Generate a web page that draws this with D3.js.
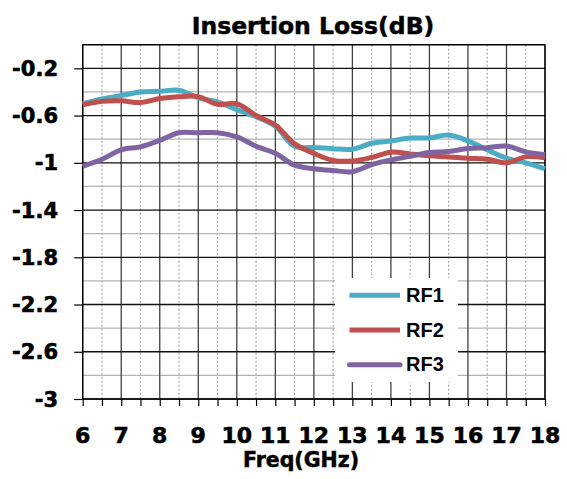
<!DOCTYPE html>
<html>
    <head>
        <meta charset="utf-8">
        <script src="https://d3js.org/d3.v7.min.js"></script>
        <style>
            body { margin: 0; background: white; }
        </style>
    </head>
    <body>
        <div id="d3render"></div>
    </body>
    <script>
        const freqs = [6, 6.5, 7, 7.5, 8, 8.5, 9, 9.5, 10, 10.5, 11, 11.5, 12, 12.5, 13, 13.5, 14, 14.5, 15, 15.5, 16, 16.5, 17, 17.5, 18];
        const rf1 = [-0.50, -0.46, -0.43, -0.40, -0.395, -0.385, -0.45, -0.485, -0.55, -0.61, -0.69, -0.86, -0.87, -0.88, -0.885, -0.835, -0.815, -0.79, -0.79, -0.765, -0.815, -0.89, -0.96, -1.0, -1.05];
        const rf2 = [-0.51, -0.48, -0.475, -0.49, -0.455, -0.44, -0.44, -0.505, -0.50, -0.60, -0.68, -0.84, -0.92, -0.98, -0.985, -0.955, -0.91, -0.925, -0.94, -0.95, -0.962, -0.97, -1.0, -0.95, -0.957];
        const rf3 = [-1.03, -0.97, -0.89, -0.865, -0.81, -0.745, -0.745, -0.745, -0.78, -0.86, -0.92, -1.02, -1.05, -1.065, -1.075, -1.015, -0.975, -0.945, -0.912, -0.905, -0.878, -0.872, -0.858, -0.907, -0.93];
        const seriesNames = ['RF1', 'RF2', 'RF3'];
        const seriesColors = ['#4bacc6', '#c0504d', '#8064a2'];
        const xTicks = [6, 7, 8, 9, 10, 11, 12, 13, 14, 15, 16, 17, 18];
        const yTicks = [-0.2, -0.6, -1, -1.4, -1.8, -2.2, -2.6, -3];

        const svgWidth = 567;
        const svgHeight = 479;
        const plotLeft = 82.7, plotRight = 545, plotTop = 44.7, plotBottom = 399;

        const svg = d3.select('#d3render')
        .append('svg')
        .attr('width', svgWidth)
        .attr('height', svgHeight)
        .style('background-color', 'white')

        const xScale = d3.scaleLinear()
        .domain([6, 18])
        .range([plotLeft, plotRight])

        const yScale = d3.scaleLinear()
        .domain([-3, 0])
        .range([plotBottom, plotTop])

        // minor grid
        const halfTicks = d3.range(6.5, 18, 1);
        svg.append('g')
        .selectAll('line')
        .data(halfTicks)
        .enter()
        .append('line')
        .attr('x1', d => xScale(d))
        .attr('x2', d => xScale(d))
        .attr('y1', plotTop)
        .attr('y2', plotBottom)
        .attr('stroke', '#a8a8a8')
        .attr('stroke-width', 1.2)
        .attr('stroke-dasharray', '2,2')

        const minorY = d3.range(-0.4, -3, -0.4);
        svg.append('g')
        .selectAll('line')
        .data(minorY)
        .enter()
        .append('line')
        .attr('x1', plotLeft)
        .attr('x2', plotRight)
        .attr('y1', d => yScale(d))
        .attr('y2', d => yScale(d))
        .attr('stroke', '#b4b4b4')
        .attr('stroke-width', 1.2)

        // major grid
        svg.append('g')
        .selectAll('line')
        .data(xTicks)
        .enter()
        .append('line')
        .attr('x1', d => xScale(d))
        .attr('x2', d => xScale(d))
        .attr('y1', plotTop)
        .attr('y2', plotBottom)
        .attr('stroke', '#404040')
        .attr('stroke-width', 1.3)

        svg.append('g')
        .selectAll('line')
        .data(yTicks.concat([0]))
        .enter()
        .append('line')
        .attr('x1', plotLeft)
        .attr('x2', plotRight)
        .attr('y1', d => yScale(d))
        .attr('y2', d => yScale(d))
        .attr('stroke', '#111')
        .attr('stroke-width', 1.3)

        svg.append('rect')
        .attr('x', plotLeft)
        .attr('y', plotTop)
        .attr('width', plotRight - plotLeft)
        .attr('height', plotBottom - plotTop)
        .attr('fill', 'none')
        .attr('stroke', '#000')
        .attr('stroke-width', 1.3)

        // axes
        const xAxis = d3.axisBottom(xScale)
        .tickValues(d3.range(6, 18.5, 0.5))
        .tickSize(7)
        .tickFormat('')

        svg.append('g')
        .attr('transform', `translate(0, ${plotBottom})`)
        .call(xAxis)
        .call(g => g.select('.domain').remove())
        .call(g => g.selectAll('line').attr('stroke', '#000').attr('stroke-width', 1.2))

        svg.append('g')
        .selectAll('text')
        .data(xTicks)
        .enter()
        .append('text')
        .attr('x', d => xScale(d))
        .attr('y', 443)
        .attr('text-anchor', 'middle')
        .style('font-family', 'DejaVu Sans')
        .style('font-weight', 'bold')
        .style('font-size', '22px')
        .style('stroke', '#000')
        .style('stroke-width', 0.6)
        .text(d => d)

        const yAxis = d3.axisLeft(yScale)
        .tickValues(yTicks)
        .tickSize(8.5)
        .tickFormat('')

        svg.append('g')
        .attr('transform', `translate(${plotLeft}, 0)`)
        .call(yAxis)
        .call(g => g.select('.domain').remove())
        .call(g => g.selectAll('line').attr('stroke', '#000').attr('stroke-width', 1.2))

        svg.append('g')
        .selectAll('text')
        .data(yTicks)
        .enter()
        .append('text')
        .attr('x', 58)
        .attr('y', d => yScale(d))
        .attr('dy', '0.36em')
        .attr('text-anchor', 'end')
        .style('font-family', 'DejaVu Sans')
        .style('font-weight', 'bold')
        .style('font-size', '21px')
        .style('stroke', '#000')
        .style('stroke-width', 0.6)
        .text(d => d)

        // curves
        const line = d3.line()
        .x((d, i) => xScale(freqs[i]))
        .y(d => yScale(d))
        .curve(d3.curveCatmullRom)

        const allSeries = [rf1, rf2, rf3];
        svg.append('g')
        .selectAll('path')
        .data(allSeries)
        .enter()
        .append('path')
        .attr('d', d => line(d))
        .attr('fill', 'none')
        .attr('stroke', (d, i) => seriesColors[i])
        .attr('stroke-width', 5)
        .attr('stroke-linejoin', 'round')

        // titles
        svg.append('text')
        .attr('x', 313)
        .attr('y', 34)
        .attr('text-anchor', 'middle')
        .style('font-family', 'DejaVu Sans')
        .style('font-weight', 'bold')
        .style('font-size', '23.5px')
        .style('stroke', '#000')
        .style('stroke-width', 0.5)
        .text('Insertion Loss(dB)')

        svg.append('text')
        .attr('x', 301)
        .attr('y', 467)
        .attr('text-anchor', 'middle')
        .style('font-family', 'DejaVu Sans')
        .style('font-weight', 'bold')
        .style('font-size', '20.5px')
        .style('stroke', '#000')
        .style('stroke-width', 0.5)
        .text('Freq(GHz)')

        // legend
        const legend = svg.append('g')

        legend.append('rect')
        .attr('x', 335)
        .attr('y', 278)
        .attr('width', 123)
        .attr('height', 104)
        .attr('fill', 'white')

        const legendRows = legend.selectAll('g')
        .data(seriesNames)
        .enter()
        .append('g')
        .attr('transform', (d, i) => `translate(0, ${295.3 + i * 34.7})`)

        legendRows.append('line')
        .attr('x1', 349.5)
        .attr('x2', 400)
        .attr('stroke', (d, i) => seriesColors[i])
        .attr('stroke-width', 5)
        .attr('stroke-linecap', (d, i) => i === 2 ? 'round' : 'butt')

        legendRows.append('text')
        .attr('x', 406)
        .attr('y', 6.5)
        .style('font-family', 'Liberation Sans, Arial')
        .style('font-weight', 'bold')
        .style('font-size', '20px')
        .text(d => d)
    </script>
</html>
